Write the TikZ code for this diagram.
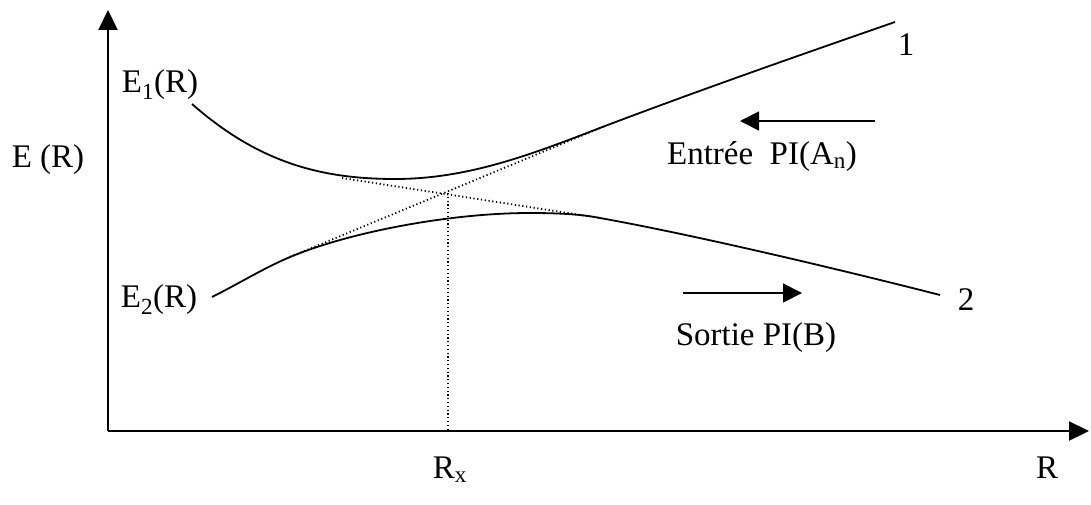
\documentclass[tikz,border=0pt]{standalone}
\usepackage{fontspec}
\setmainfont{Liberation Serif}
\usetikzlibrary{arrows.meta}
\begin{document}
\begin{tikzpicture}[x=1pt,y=-1pt,
  axis/.style={line width=2.2pt,-{Triangle[length=20pt,width=19pt]}},
  curve/.style={line width=1.8pt},
  dots/.style={line width=1.8pt,dash pattern=on 1.2pt off 2.6pt},
  flow/.style={line width=1.8pt,-{Triangle[length=19pt,width=19pt]}},
  lbl/.style={inner sep=0pt,font=\fontsize{33}{36}\selectfont}]
\useasboundingbox (0,0) rectangle (1091,505);
% axes
\coordinate (O) at (108,431);
\coordinate (Ytip) at (108,10);
\coordinate (Xtip) at (1089,431);
\draw[axis] (O) -- (Ytip);
\draw[axis] (O) -- (Xtip);
% key points
\coordinate (u0) at (192,104);
\coordinate (umin) at (395,179);
\coordinate (ut) at (605,126);
\coordinate (u1) at (895,22);
\coordinate (l0) at (212,297);
\coordinate (lt) at (290,257);
\coordinate (lmax) at (530,213);
\coordinate (lt2) at (600,218);
\coordinate (l1) at (940,295);
\coordinate (bt) at (342,178);
\coordinate (X) at (448,193);
\coordinate (Xb) at (448,431);
% curves
\draw[curve] (u0) .. controls (258,162) and (320,179) .. (umin)
  .. controls (470,179) and (535,153) .. (ut)
  .. controls (700,90) and (800,55) .. (u1);
\draw[curve] (l0) .. controls (240,283) and (262,269) .. (lt)
  .. controls (350,232) and (450,213) .. (lmax)
  .. controls (565,213) and (585,215) .. (lt2)
  .. controls (700,236) and (850,272) .. (l1);
% dotted asymptotes
\draw[dots] (lt) -- (ut);
\draw[dots] (bt) -- (lt2);
\draw[dots,line width=1.3pt] (X) -- (Xb);
% flow arrows
\coordinate (a1s) at (875,121);
\coordinate (a1e) at (740,121);
\coordinate (a2s) at (683,293);
\coordinate (a2e) at (802,293);
\draw[flow] (a1s) -- (a1e);
\draw[flow] (a2s) -- (a2e);
% labels
\node[lbl] (E) at (48,160) {E (R)};
\node[lbl] (E1) at (160,85) {E\textsubscript{1}(R)};
\node[lbl] (E2) at (159,300) {E\textsubscript{2}(R)};
\node[lbl] (n1) at (906,45) {1};
\node[lbl] (n2) at (966,300) {2};
\node[lbl] (ent) at (762,157) {Entrée\ \ PI(A\textsubscript{n})};
\node[lbl] (sor) at (756,338) {Sortie PI(B)};
\node[lbl] (Rx) at (450,470) {R\textsubscript{x}};
\node[lbl] (R) at (1047,468) {R};
\end{tikzpicture}
\end{document}
